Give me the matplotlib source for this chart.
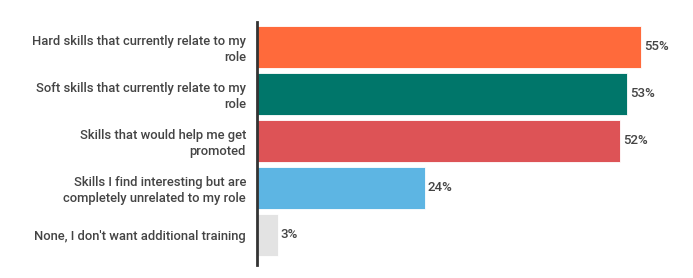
import matplotlib.pyplot as plt

categories = [
    "Hard skills that currently relate to my\nrole",
    "Soft skills that currently relate to my\nrole",
    "Skills that would help me get\npromoted",
    "Skills I find interesting but are\ncompletely unrelated to my role",
    "None, I don't want additional training",
]
values = [55, 53, 52, 24, 3]
colors = ["#FF6A3B", "#00766A", "#DD5356", "#5DB5E3", "#E3E3E3"]

plt.rcParams['font.family'] = ['Roboto', 'DejaVu Sans']

fig = plt.figure(figsize=(6.93, 2.78), dpi=100)
W, H = 693, 278
left, right, top, bottom = 257, 685, 22, 265
ax = fig.add_axes([left / W, 1 - bottom / H, (right - left) / W, (bottom - top) / H])

pos = list(range(len(values)))
ax.barh(pos, values, height=0.9, color=colors, edgecolor='white', linewidth=0.6)
ax.set_xlim(0, (right - left) / 6.98)
ax.set_ylim(4.64, -0.53)

for p, v in zip(pos, values):
    ax.text(v + 0.4, p, f"{v}%", va='center', ha='left', fontsize=9.5,
            color='#444444', fontweight='medium')

ax.set_yticks(pos)
ax.set_yticklabels(categories, fontsize=9.4, color='#444444', linespacing=1.25,
                   fontweight='medium')
ax.tick_params(axis='y', length=0, pad=8)
ax.set_xticks([])
for s in ['top', 'right', 'bottom']:
    ax.spines[s].set_visible(False)
ax.spines['left'].set_color('#333333')
ax.spines['left'].set_linewidth(2)

fig.savefig('out.png', dpi=100)
